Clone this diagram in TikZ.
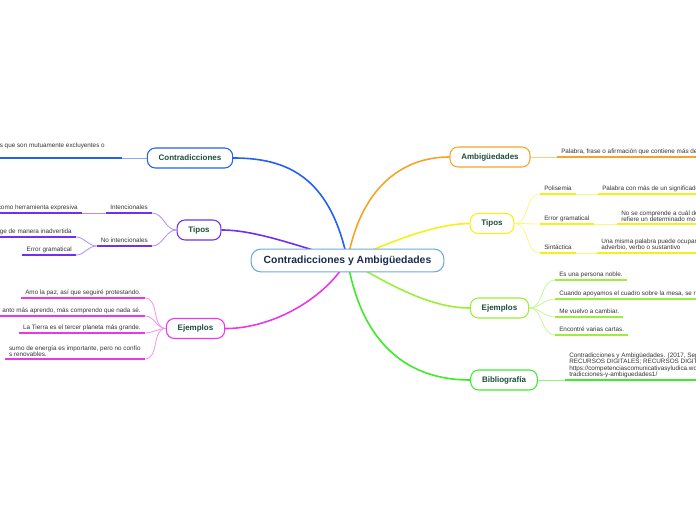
\documentclass[tikz,border=0pt]{standalone}
\usepackage{fontspec}
\setmainfont{Liberation Sans}
\usetikzlibrary{positioning,backgrounds}
\definecolor{cblue}{HTML}{2262F2}
\definecolor{cpurple}{HTML}{7030F0}
\definecolor{cmag}{HTML}{E838E8}
\definecolor{corange}{HTML}{F5A42A}
\definecolor{cyellow}{HTML}{F2F21A}
\definecolor{clime}{HTML}{9BEF3A}
\definecolor{cgreen}{HTML}{3DEB2A}
\definecolor{chub}{HTML}{6FA8DC}
\definecolor{chubtxt}{HTML}{1C2B4E}
\definecolor{ctopic}{HTML}{1E4D3B}
\definecolor{cleaf}{HTML}{333333}
\tikzset{
  hub/.style={draw=chub, fill=white, rounded corners=7pt, line width=0.8pt, font=\fontsize{7.8}{9}\selectfont\bfseries, text=chubtxt, minimum height=17pt, inner xsep=9.4pt, inner ysep=0pt},
  topicbox/.style={draw=#1, fill=white, rounded corners=6pt, line width=0.8pt, font=\fontsize{6}{7}\selectfont\bfseries, text=ctopic, minimum height=15pt, inner xsep=8.5pt, inner ysep=0pt},
  mmleaf/.style={font=\fontsize{4.75}{4.8}\selectfont, text=cleaf, inner xsep=3pt, inner ysep=1.5pt, text depth=1pt, align=left},
  uline/.style={line width=1.5pt, draw=#1},
  mainln/.style={line width=1.2pt, draw=#1},
  subln/.style={line width=0.6pt, draw=#1!55},
}
\begin{document}
\begin{tikzpicture}[x=0.75pt, y=-0.75pt]
\useasboundingbox (0,0) rectangle (696,520);
%% ---- el centro y las siete ramas
\node[hub] (hub) at (347.5,260.5) {Contradicciones y Ambigüedades};
\node[topicbox=cblue] (contra) at (190,158) {Contradicciones};
\node[topicbox=cpurple] (tiposL) at (199,230) {Tipos};
\node[topicbox=cmag] (ejL) at (195.5,328.5) {Ejemplos};
\node[topicbox=corange] (ambig) at (490,157) {Ambigüedades};
\node[topicbox=cyellow] (tiposR) at (492,223.5) {Tipos};
\node[topicbox=clime] (ejR) at (499.5,308) {Ejemplos};
\node[topicbox=cgreen] (biblio) at (504,380) {Bibliografía};

%% ---- lado izquierdo
\node[mmleaf, anchor=south east, inner xsep=12.75pt, text depth=6.3pt] (cdef) at (122,158) {os que son mutuamente excluyentes o};
\node[mmleaf, anchor=south east] (intenc) at (152,213) {Intencionales};
\node[mmleaf, anchor=south east] (intexp) at (82,213) {como herramienta expresiva};
\node[mmleaf, anchor=south east] (noint) at (152,246) {No intencionales};
\node[mmleaf, anchor=south east] (inadv) at (76,237) {ge de manera inadvertida};
\node[mmleaf, anchor=south east] (errL) at (76,255) {Error gramatical};
\node[mmleaf, anchor=south east] (ejL1) at (145,298) {Amo la paz, así que seguiré protestando.};
\node[mmleaf, anchor=south east] (ejL2) at (145,316) {anto más aprendo, más comprendo que nada sé.};
\node[mmleaf, anchor=south east] (ejL3) at (145,333) {La Tierra es el tercer planeta más grande.};
\node[mmleaf, anchor=south east, text depth={}] (ejL4) at (145,359) {sumo de energía es importante, pero no confío\\s renovables.};

%% ---- lado derecho
\node[mmleaf, anchor=south west] (ambdef) at (557,157) {Palabra, frase o afirmación que contiene más de};
\node[mmleaf, anchor=south west] (poli) at (540,194) {Polisemia};
\node[mmleaf, anchor=south west] (polidef) at (598,194) {Palabra con más de un significado};
\node[mmleaf, anchor=south west] (errR) at (540,224) {Error gramatical};
\node[mmleaf, anchor=south west, text depth={}] (errdef) at (617,224) {No se comprende a cuál de\\refiere un determinado mo};
\node[mmleaf, anchor=south west] (sint) at (540,253) {Sintáctica};
\node[mmleaf, anchor=south west, text depth={}] (sintdef) at (597,253) {Una misma palabra puede ocupar\\adverbio, verbo o sustantivo};
\node[mmleaf, anchor=south west] (ejR1) at (555,280) {Es una persona noble.};
\node[mmleaf, anchor=south west] (ejR2) at (555,299) {Cuando apoyamos el cuadro sobre la mesa, se ro};
\node[mmleaf, anchor=south west] (ejR3) at (555,317) {Me vuelvo a cambiar.};
\node[mmleaf, anchor=south west] (ejR4) at (555,335) {Encontré varias cartas.};
\node[mmleaf, anchor=south west, text depth={}] (bibdef) at (565,380) {Contradicciones y Ambigüedades. (2017, Sept\\RECURSOS DIGITALES; RECURSOS DIGITALES\\https://competenciascomunicativasyludica.wo\\tradicciones-y-ambiguedades1/};

%% ---- subrayados
\foreach \n/\c in {cdef/cblue, intenc/cpurple, intexp/cpurple, noint/cpurple, inadv/cpurple, errL/cpurple,
  ejL1/cmag, ejL2/cmag, ejL3/cmag, ejL4/cmag, ambdef/corange, poli/cyellow, polidef/cyellow, errR/cyellow,
  errdef/cyellow, sint/cyellow, sintdef/cyellow, ejR1/clime, ejR2/clime, ejR3/clime, ejR4/clime, bibdef/cgreen}
  \draw[uline=\c] (\n.south west) -- (\n.south east);

\begin{scope}[on background layer]
%% ---- ramas principales
\draw[mainln=cblue] (hub.center) .. controls (330,175) and (285,158) .. (contra.east);
\draw[mainln=cpurple] (hub.center) .. controls (295,245) and (255,230) .. (tiposL.east);
\draw[mainln=cmag] (hub.center) .. controls (320,305) and (265,329) .. (ejL.east);
\draw[mainln=corange] (hub.center) .. controls (360,190) and (400,157) .. (ambig.west);
\draw[mainln=cyellow] (hub.center) .. controls (395,240) and (435,224) .. (tiposR.west);
\draw[mainln=clime] (hub.center) .. controls (390,285) and (430,308) .. (ejR.west);
\draw[mainln=cgreen] (hub.center) .. controls (360,335) and (400,380) .. (biblio.west);

%% ---- ramas finas
\draw[subln=cblue] (contra.west) -- (cdef.south east);
\draw[subln=cpurple] (tiposL.west) to[out=180,in=0] (intenc.south east);
\draw[subln=cpurple] (tiposL.west) to[out=180,in=0] (noint.south east);
\draw[subln=cpurple] (intenc.south west) -- (intexp.south east);
\draw[subln=cpurple] (noint.south west) to[out=180,in=0] (inadv.south east);
\draw[subln=cpurple] (noint.south west) to[out=180,in=0] (errL.south east);
\foreach \n in {ejL1,ejL2,ejL3,ejL4}
  \draw[subln=cmag] (ejL.west) to[out=180,in=0] (\n.south east);
\draw[subln=corange] (ambig.east) -- (ambdef.south west);
\foreach \n in {poli,errR,sint}
  \draw[subln=cyellow] (tiposR.east) to[out=0,in=180] (\n.south west);
\draw[subln=cyellow] (poli.south east) -- (polidef.south west);
\draw[subln=cyellow] (errR.south east) -- (errdef.south west);
\draw[subln=cyellow] (sint.south east) -- (sintdef.south west);
\foreach \n in {ejR1,ejR2,ejR3,ejR4}
  \draw[subln=clime] (ejR.east) to[out=0,in=180] (\n.south west);
\draw[subln=cgreen] (biblio.east) -- (bibdef.south west);
\end{scope}
\end{tikzpicture}
\end{document}
